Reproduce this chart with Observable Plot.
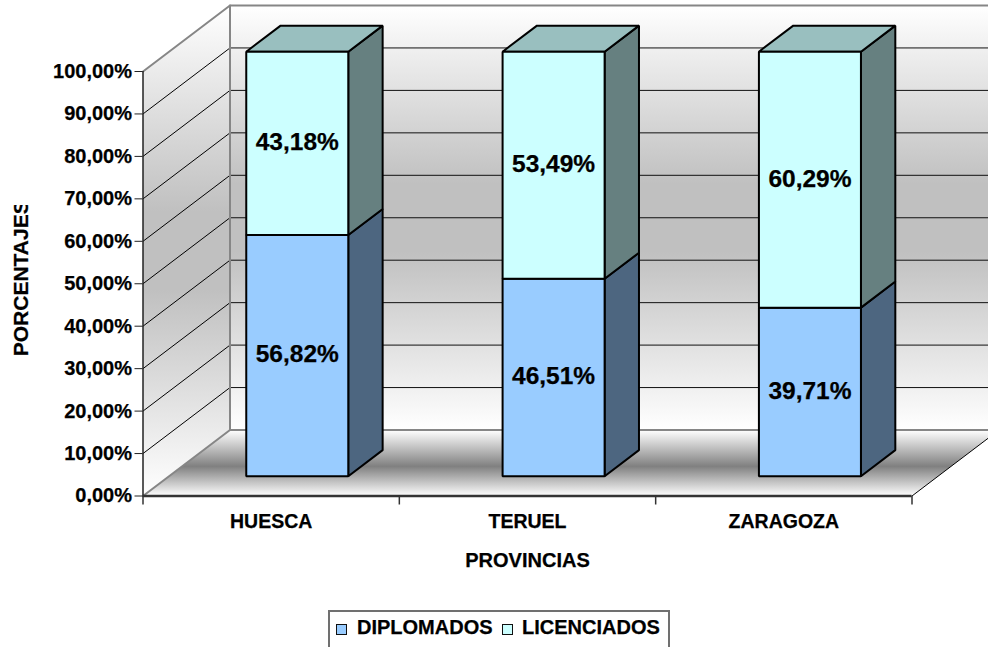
<!DOCTYPE html>
<html>
<head>
<meta charset="utf-8">
<script src="https://cdn.jsdelivr.net/npm/d3@7"></script>
<script src="https://cdn.jsdelivr.net/npm/@observablehq/plot@0.6"></script>
<style>
  html, body { margin: 0; padding: 0; background: #fff; overflow: hidden; }
  svg text { stroke: #000; stroke-width: 0.25px; }
  #legend { position: absolute; left: 328px; top: 610px; width: 338px; height: 44px; border: 2px solid #707070; box-sizing: content-box;
    font: bold 20px "Liberation Sans", Arial, sans-serif; color: #000; white-space: nowrap; -webkit-text-stroke: 0.25px #000; }
  #legend i { position: absolute; top: 12px; width: 9px; height: 9px; border: 1.5px solid #111; }
  #legend span { position: absolute; top: 4px; }
</style>
</head>
<body>
<div id="chart"></div>
<div id="legend"></div>
<script>
const provinces = ["HUESCA", "TERUEL", "ZARAGOZA"];
const diplomados = [56.82, 46.51, 39.71];
const licenciados = [43.18, 53.49, 60.29];
const yTicks = [0, 10, 20, 30, 40, 50, 60, 70, 80, 90, 100];
const seriesNames = ["DIPLOMADOS", "LICENCIADOS"];
const xTitle = "PROVINCIAS";
const yTitle = "PORCENTAJES";

const font = '"Liberation Sans", Arial, sans-serif';
const blue = {front: "#99ccff", side: "#4d6680", top: "#7399bf"};
const cyan = {front: "#ccffff", side: "#668080", top: "#99bfbf"};

// Oblique projection of (category position, percentage, depth) in data units
const depthX = 87 / 256.33, depthY = 66 / 4.245;
const p = (x, v, d) => ({x: x + d * depthX, y: v + d * depthY});
const quad = (pts, o) => Plot.line(pts, {x: "x", y: "y", curve: "linear-closed", strokeLinejoin: "miter", ...o});

const D1 = 0.30, D2 = 0.695, half = 0.199;
const barFaces = [];
const labels = [];
provinces.forEach((name, i) => {
  const c = i + 0.5, l = c - half, r = c + half;
  const a = diplomados[i], t = a + licenciados[i];
  const segs = [[0, a, blue, diplomados[i]], [a, t, cyan, licenciados[i]]];
  segs.forEach(([v0, v1, col, val], k) => {
    barFaces.push(quad([p(r, v0, D1), p(r, v0, D2), p(r, v1, D2), p(r, v1, D1)], {fill: col.side, stroke: "#000", strokeWidth: 2}));
    if (k === 1) barFaces.push(quad([p(l, v1, D1), p(r, v1, D1), p(r, v1, D2), p(l, v1, D2)], {fill: col.top, stroke: "#000", strokeWidth: 2}));
    barFaces.push(quad([p(l, v0, D1), p(r, v0, D1), p(r, v1, D1), p(l, v1, D1)], {fill: col.front, stroke: "#000", strokeWidth: 2}));
    labels.push({...p(c, (v0 + v1) / 2, D1), text: val.toFixed(2).replace(".", ",") + "%"});
  });
});

const defs = () => {
  const d = d3.create("svg:defs");
  const grad = (id, stops) => {
    const g = d.append("linearGradient").attr("id", id).attr("x1", 0).attr("x2", 0).attr("y1", 0).attr("y2", 1);
    stops.forEach(([o, c]) => g.append("stop").attr("offset", o).attr("stop-color", c));
  };
  grad("wall", [[0, "#ffffff"], [0.42, "#c0c0c0"], [0.58, "#c0c0c0"], [1, "#ffffff"]]);
  grad("floor", [[0, "#ffffff"], [0.55, "#808080"], [1, "#ffffff"]]);
  d.append("clipPath").attr("id", "ytitle-clip").attr("clipPathUnits", "userSpaceOnUse")
    .append("rect").attr("x", 0).attr("y", 205).attr("width", 140).attr("height", 400);
  return d.node();
};

// The reference cuts the end of the vertical title off
const clipped = (index, scales, values, dims, context, next) => {
  const wrap = d3.create("svg:g").attr("clip-path", "url(#ytitle-clip)");
  wrap.node().append(next(index, scales, values, dims, context));
  return wrap.node();
};

const n = provinces.length;
const wallEdge = {stroke: "#868686", strokeWidth: 2, fill: "none"};

const chart = Plot.plot({
  width: 988, height: 610,
  marginLeft: 142.5, marginRight: 76.5, marginTop: 71, marginBottom: 114.5,
  style: {background: "white", fontFamily: font, color: "#000", overflow: "hidden"},
  x: {domain: [0, n], axis: null},
  y: {domain: [0, 100], axis: null},
  marks: [
    defs,
    // back wall, left wall, floor
    quad([p(0, 0, 1), p(n, 0, 1), p(n, 100, 1), p(0, 100, 1)], {fill: "url(#wall)"}),
    quad([p(0, 0, 0), p(0, 0, 1), p(0, 100, 1), p(0, 100, 0)], {fill: "url(#wall)"}),
    quad([p(0, 0, 0), p(n, 0, 0), p(n, 0, 1), p(0, 0, 1)], {fill: "url(#floor)"}),
    // gridlines on both walls
    ...yTicks.slice(1, -1).flatMap(v => [
      Plot.line([p(0, v, 0), p(0, v, 1)], {x: "x", y: "y", stroke: "#000", strokeWidth: 1}),
      Plot.line([p(0, v, 1), p(n, v, 1)], {x: "x", y: "y", stroke: "#111", strokeWidth: 1})
    ]),
    // wall outlines
    Plot.line([p(0, 0, 0), p(0, 0, 1), p(n, 0, 1)], {x: "x", y: "y", ...wallEdge}),
    Plot.line([p(0, 100, 0), p(0, 100, 1), p(n, 100, 1)], {x: "x", y: "y", ...wallEdge}),
    Plot.line([p(0, 0, 1), p(0, 100, 1)], {x: "x", y: "y", ...wallEdge}),
    Plot.line([p(n, 0, 0), p(n, 0, 1)], {x: "x", y: "y", stroke: "#000", strokeWidth: 1}),
    // front axes
    Plot.ruleX([0], {y1: 0, y2: 100, stroke: "#222", strokeWidth: 1.5}),
    Plot.ruleY([0], {x1: 0, x2: n, stroke: "#333", strokeWidth: 2.5}),
    Plot.axisY({ticks: yTicks, tickSize: 8, tickPadding: 3, stroke: "#222", fontSize: 20, fontWeight: "bold", fill: "#000",
      tickFormat: v => v.toFixed(2).replace(".", ",") + "%", label: null}),
    Plot.axisX({ticks: d3.range(n + 1), tickSize: 9, tickFormat: () => "", stroke: "#333", strokeWidth: 1.5, label: null}),
    Plot.axisX({ticks: provinces.map((_, i) => i + 0.5), tickSize: 0, tickPadding: 18, fontSize: 19.5, fontWeight: "bold", fill: "#000",
      tickFormat: v => provinces[v - 0.5], label: null}),
    // bars
    ...barFaces,
    Plot.text(labels, {x: "x", y: "y", dy: -1, text: "text", fontSize: 24.5, fontWeight: "bold", fill: "#000"}),
    // axis titles
    Plot.text([xTitle], {x: n / 2, y: 0, dy: 65, fontSize: 20, fontWeight: "bold", fill: "#000"}),
    Plot.text([yTitle], {frameAnchor: "left", dx: -121.5, dy: 72.5, rotate: -90, fontSize: 21, fontWeight: "bold", fill: "#000", render: clipped})
  ]
});
document.getElementById("chart").append(chart);

const legend = document.getElementById("legend");
const legendColors = [blue.front, cyan.front];
const swatchLeft = [6, 172], textLeft = [27, 192];
seriesNames.forEach((s, i) => {
  const sw = document.createElement("i");
  sw.style.background = legendColors[i];
  sw.style.left = swatchLeft[i] + "px";
  const t = document.createElement("span");
  t.textContent = s;
  t.style.left = textLeft[i] + "px";
  legend.append(sw, t);
});
</script>
</body>
</html>
